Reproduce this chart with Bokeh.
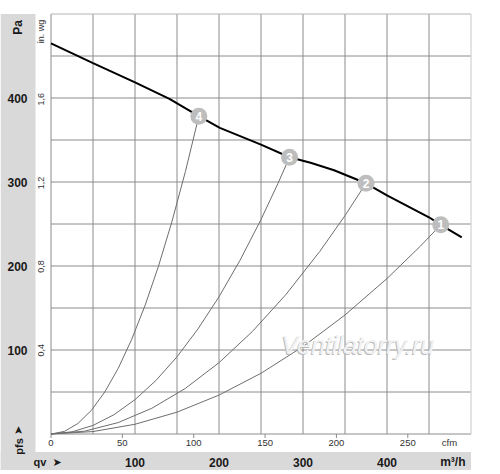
from math import pi
from bokeh.plotting import figure
from bokeh.models import BoxAnnotation
from bokeh.core.properties import value
from bokeh.embed import file_html
from bokeh.resources import INLINE

# ---------------- data ----------------
# fan characteristic (m3/h, Pa)
fan_q = [0, 50, 100, 141, 176, 201, 250, 284, 309, 337, 375, 400, 450, 464, 489]
fan_pa = [465, 441.6, 418.5, 399, 378.3, 364.5, 344.5, 329.5, 323, 314, 298.5, 284, 258, 249, 234]

# operating points
op_labels = ["1", "2", "3", "4"]
op_q = [464, 375, 284, 176]
op_pa = [249, 298.5, 329.5, 378.3]

# system curves (m3/h, Pa)
sys1_q = [0, 50, 100, 150, 200, 250, 300, 350, 400, 440, 464]
sys1_pa = [0, 2.9, 11.6, 26, 46.3, 72.3, 104.1, 141.7, 185.1, 223.9, 249]
sys2_q = [0, 40, 80, 120, 160, 200, 240, 280, 320, 350, 375]
sys2_pa = [0, 3.4, 13.6, 30.6, 54.3, 84.9, 122.3, 166.4, 217.4, 260, 298.5]
sys3_q = [0, 25, 50, 75, 100, 125, 150, 175, 200, 225, 250, 270, 284]
sys3_pa = [0, 2.6, 10.2, 23.0, 40.9, 63.8, 91.9, 125.1, 163.4, 206.8, 255.3, 297.9, 329.5]
sys4_q = [0, 16, 32, 48, 64, 80, 96, 112, 128, 144, 160, 176]
sys4_pa = [0, 3.1, 12.5, 28.1, 50.0, 78.1, 112.5, 153.1, 199.9, 253.0, 312.4, 378.3]

# grid / ticks
grid_q = [0, 50, 100, 150, 200, 250, 300, 350, 400, 450]
grid_pa = [0, 50, 100, 150, 200, 250, 300, 350, 400, 450]
q_max = 500
pa_max = 500
pa_ticks = [100, 200, 300, 400]
inwg_ticks = [0.4, 0.8, 1.2, 1.6]
inwg_labels = ["0,4", "0,8", "1,2", "1,6"]
cfm_ticks = [0, 50, 100, 150, 200, 250]
m3h_ticks = [100, 200, 300, 400]

PA_PER_INWG = 249.089
M3H_PER_CFM = 1.69901

# ---------------- layout ----------------
W, H = 474, 470
PX = 0.84             # px per unit (both axes)
OX, OY = 50.5, 433.5  # page position of data origin
M = 0                 # canvas offset on the page


def X(page_x):
    return (page_x - OX) / PX


def Y(page_y):
    return (OY - page_y) / PX


x_start = X(M)
x_end = x_start + W / PX
y_end = Y(M)
y_start = y_end - H / PX

p = figure(width=W, height=H, x_range=(x_start, x_end), y_range=(y_start, y_end),
           x_axis_type=None, y_axis_type=None, output_backend="svg",
           toolbar_location=None, min_border=0)
p.outline_line_color = None
p.grid.visible = False
p.background_fill_color = "white"
p.border_fill_color = "white"

BAND = "#d9d9d9"
p.add_layout(BoxAnnotation(right=X(35), top=pa_max, fill_color=BAND, fill_alpha=1,
                           line_color=None, level="underlay"))
p.add_layout(BoxAnnotation(top=Y(451.5), right=q_max, fill_color=BAND, fill_alpha=1,
                           line_color=None, level="underlay"))

FONT = value("Liberation Sans")
GRID = "#8c8c8c"

# grid
p.segment(x0=grid_q, y0=[0] * len(grid_q), x1=grid_q, y1=[pa_max] * len(grid_q),
          line_color=GRID, line_width=1)
p.segment(x0=[0] * len(grid_pa), y0=grid_pa, x1=[q_max] * len(grid_pa), y1=grid_pa,
          line_color=GRID, line_width=1)
p.segment(x0=[0], y0=[pa_max], x1=[q_max], y1=[pa_max], line_color="#b4b4b4", line_width=1)
p.segment(x0=[q_max], y0=[0], x1=[q_max], y1=[pa_max], line_color="#c8c8c8", line_width=1)

# cfm ticks
cfm_x = [c * M3H_PER_CFM for c in cfm_ticks]
p.segment(x0=cfm_x, y0=[0] * len(cfm_x), x1=cfm_x, y1=[-4 / PX] * len(cfm_x),
          line_color=GRID, line_width=1)

# system curves
for q, pa in [(sys1_q, sys1_pa), (sys2_q, sys2_pa), (sys3_q, sys3_pa), (sys4_q, sys4_pa)]:
    p.line(q, pa, line_color="#6e6e6e", line_width=1)

# fan curve
p.line(fan_q, fan_pa, line_color="#000000", line_width=2)

# watermark (embossed look)
wm_x, wm_y = X(357.5), Y(344)
p.text(x=[wm_x], y=[wm_y], text=["Ventilatorry.ru"], text_font=FONT, text_font_size="25px",
       text_font_style="italic", text_color="#b9b9b9", text_align="center",
       text_baseline="alphabetic", x_offset=-1, y_offset=1)
p.text(x=[wm_x], y=[wm_y], text=["Ventilatorry.ru"], text_font=FONT, text_font_size="25px",
       text_font_style="italic", text_color="#f2f2f2", text_align="center",
       text_baseline="alphabetic")

# operating points
p.scatter(op_q, op_pa, marker="circle", size=17, fill_color="#bdbdbd", line_color=None)
p.text(x=op_q, y=op_pa, text=op_labels, text_font=FONT, text_font_size="12px",
       text_font_style="bold", text_color="white", text_align="center",
       text_baseline="middle")

# left band: Pa labels
p.text(x=[X(17)] * len(pa_ticks), y=pa_ticks, text=[str(t) for t in pa_ticks],
       text_font=FONT, text_font_size="12px", text_font_style="bold", text_color="#1a1a1a",
       text_align="center", text_baseline="middle")
p.text(x=[X(17)], y=[Y(27)], text=["Pa"], angle=pi / 2, text_font=FONT,
       text_font_size="12px", text_font_style="bold", text_color="#1a1a1a",
       text_align="center", text_baseline="middle")
p.text(x=[X(18)], y=[Y(446)], text=["pfs"], angle=pi / 2, text_font=FONT,
       text_font_size="11px", text_font_style="bold", text_color="#1a1a1a",
       text_align="center", text_baseline="middle")
p.text(x=[X(18)], y=[Y(430)], text=["➤"], angle=pi / 2, text_font=value("DejaVu Sans"),
       text_font_size="11px", text_color="#1a1a1a", text_align="center",
       text_baseline="middle")

# in. wg labels
p.text(x=[X(40)] * len(inwg_ticks), y=[v * PA_PER_INWG for v in inwg_ticks], text=inwg_labels,
       angle=pi / 2, text_font=FONT, text_font_size="9px", text_color="#333333",
       text_align="center", text_baseline="middle")
p.text(x=[X(40)], y=[Y(31)], text=["in. wg"], angle=pi / 2, text_font=FONT,
       text_font_size="9px", text_color="#333333", text_align="center",
       text_baseline="middle")

# cfm labels
p.text(x=cfm_x, y=[Y(442)] * len(cfm_x), text=[str(c) for c in cfm_ticks], text_font=FONT,
       text_font_size="9.5px", text_color="#333333", text_align="center",
       text_baseline="middle")
p.text(x=[X(449)], y=[Y(442)], text=["cfm"], text_font=FONT, text_font_size="9.5px",
       text_color="#333333", text_align="center", text_baseline="middle")

# bottom band: m3/h labels
p.text(x=m3h_ticks, y=[Y(461.5)] * len(m3h_ticks), text=[str(t) for t in m3h_ticks],
       text_font=FONT, text_font_size="12px", text_font_style="bold", text_color="#1a1a1a",
       text_align="center", text_baseline="middle")
p.text(x=[X(465)], y=[Y(461.5)], text=["m³/h"], text_font=FONT, text_font_size="12px",
       text_font_style="bold", text_color="#1a1a1a", text_align="right",
       text_baseline="middle")
p.text(x=[X(33)], y=[Y(461.5)], text=["qv"], text_font=FONT, text_font_size="11px",
       text_font_style="bold", text_color="#1a1a1a", text_align="left",
       text_baseline="middle")
p.text(x=[X(56.5)], y=[Y(461.5)], text=["➤"], text_font=value("DejaVu Sans"),
       text_font_size="11px", text_color="#1a1a1a", text_align="center",
       text_baseline="middle")

open("out.html", "w").write(file_html(p, INLINE))
